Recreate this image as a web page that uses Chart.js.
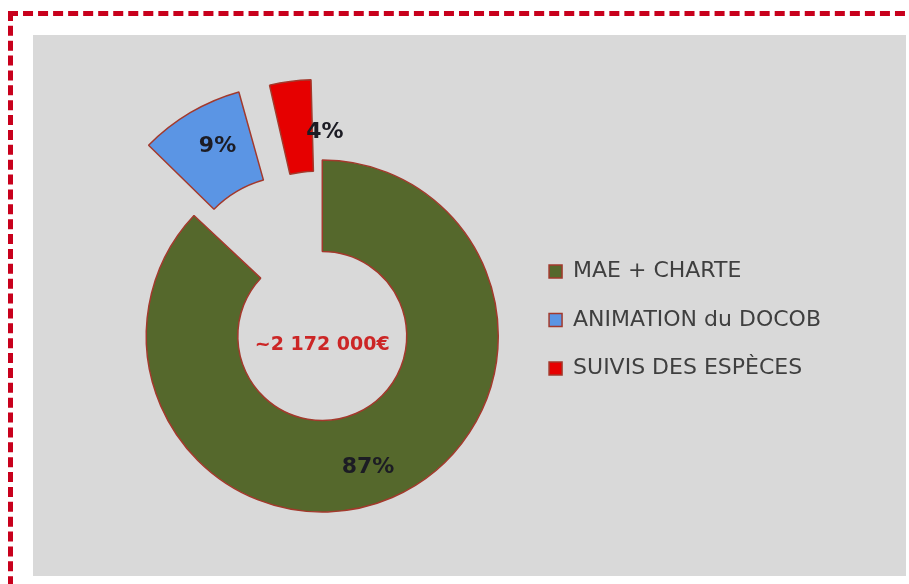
<!DOCTYPE html>
<html>
<head>
<meta charset="utf-8">
<script src="https://cdn.jsdelivr.net/npm/chart.js@4.4.0/dist/chart.umd.min.js"></script>
<style>
  body { margin: 0; background: #fff; overflow: hidden; }
  #frame { position: absolute; left: 8px; top: 11px; width: 912px; height: 590px; border: 5px dashed #c8001c; box-sizing: border-box; }
  #wrap { position: absolute; left: 33px; top: 35px; width: 873px; height: 541px; background: #d9d9d9; }
</style>
</head>
<body>
<div id="frame"></div>
<div id="wrap"><canvas id="chart"></canvas></div>
<script>
const categories = ['MAE + CHARTE', 'ANIMATION du DOCOB', 'SUIVIS DES ESPÈCES'];
const values = [87, 9, 4];
const colors = ['#55682c', '#5b95e4', '#e60000'];
const centerText = '~2 172 000€';

// how far each piece is pulled out, and small shifts for the % labels
const pullOut = [0, 228, 184];
const labelNudge = [[-6, 12], [4, -6], [29, 5]];

const ctx = document.getElementById('chart');
Chart.defaults.font.family = '"DejaVu Sans", sans-serif';

const arcLabels = {
  id: 'arcLabels',
  afterDatasetsDraw(chart) {
    const c = chart.ctx;
    const meta = chart.getDatasetMeta(0);
    c.save();
    c.font = 'bold 22px "DejaVu Sans"';
    c.fillStyle = '#1c1c24';
    c.textAlign = 'center';
    c.textBaseline = 'middle';
    meta.data.forEach((arc, i) => {
      const p = arc.getProps(['x', 'y', 'startAngle', 'endAngle', 'innerRadius', 'outerRadius', 'circumference']);
      const off = (arc.options.offset || 0) / 4;
      const fix = 1 - Math.sin(Math.min(Math.PI, p.circumference));
      const mid = (p.startAngle + p.endAngle) / 2;
      const r = (p.innerRadius + p.outerRadius) / 2 + off + off * fix;
      c.fillText(values[i] + '%', p.x + Math.cos(mid) * r + labelNudge[i][0], p.y + Math.sin(mid) * r + labelNudge[i][1]);
    });
    const a = meta.data[0];
    c.font = 'bold 19px "DejaVu Sans"';
    c.fillStyle = '#cc2626';
    c.fillText(centerText, a.x, a.y + 9);
    c.restore();
  }
};

new Chart(ctx, {
  type: 'doughnut',
  data: {
    labels: categories,
    datasets: [{
      data: values,
      backgroundColor: colors,
      borderColor: '#a3392c',
      borderWidth: 1.5,
      offset: pullOut,
      hoverOffset: 0,
      radius: 176,
      cutout: '48%',
      clip: false
    }]
  },
  options: {
    responsive: true,
    maintainAspectRatio: false,
    animation: false,
    events: [],
    layout: { padding: { left: 89, right: 75, top: 199, bottom: 138 } },
    plugins: {
      tooltip: { enabled: false },
      legend: {
        position: 'right',
        align: 'start',
        labels: {
          boxWidth: 13,
          boxHeight: 13,
          padding: 26.5,
          color: '#3f3f3f',
          font: { size: 22 }
        }
      }
    }
  },
  plugins: [arcLabels]
});
</script>
</body>
</html>
